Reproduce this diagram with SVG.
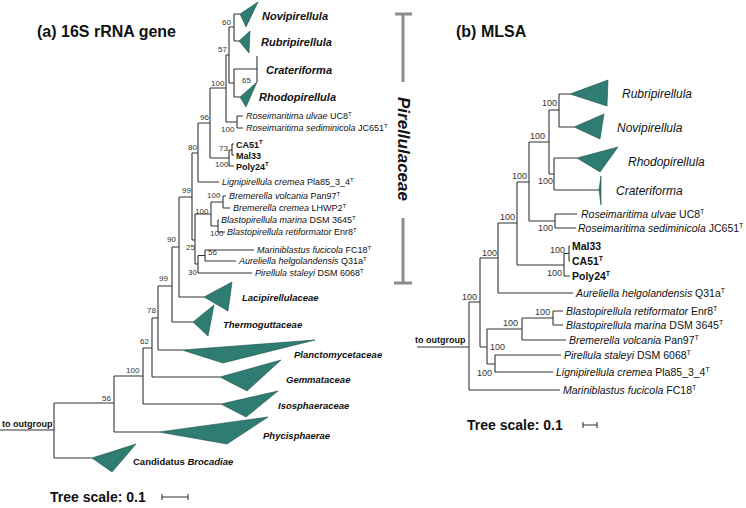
<svg xmlns="http://www.w3.org/2000/svg" width="746" height="508" viewBox="0 0 746 508">
<style>
.ln{fill:none;stroke:#333;stroke-width:1.1}
.tri{fill:#2f7d72;stroke:#1e4f49;stroke-width:0.6}
.bs{font-family:"Liberation Sans",Arial,sans-serif;font-size:8px;fill:#333}
.bs2{font-family:"Liberation Sans",Arial,sans-serif;font-size:9px;fill:#333}
.lf{font-family:"Liberation Sans",Arial,sans-serif;font-size:9px;fill:#111}
.lf2{font-family:"Liberation Sans",Arial,sans-serif;font-size:10.5px;fill:#111}
.i{font-style:italic}
.b{font-weight:bold}
.cl{font-family:"Liberation Sans",Arial,sans-serif;font-weight:bold;font-style:italic;fill:#111}
.cr{font-family:"Liberation Sans",Arial,sans-serif;font-style:italic;font-size:12px;fill:#111}
.ttl{font-family:"Liberation Sans",Arial,sans-serif;font-weight:bold;font-size:16px;fill:#111}
.sc{font-family:"Liberation Sans",Arial,sans-serif;font-weight:bold;font-size:14px;fill:#111}
.sup{font-size:6px}
.sup2{font-size:7px}
</style>
<text class="ttl" x="37" y="37">(a) 16S rRNA gene</text>
<text class="ttl" x="456" y="37">(b) MLSA</text>
<g id="bracket">
<path d="M395 14 H412 M403 14 V82 M403 218 V283 M394 283 H412" fill="none" stroke="#8c8c8c" stroke-width="3"/>
<text x="403" y="149" transform="rotate(90 403 149)" text-anchor="middle" dominant-baseline="central" font-family="Liberation Sans, Arial, sans-serif" font-weight="bold" font-style="italic" font-size="17" fill="#111">Pirellulaceae</text>
</g>
<g id="connectors">
<path class="ln" d="M0 430 H54 M54 403 V458 M54 403 H114 M54 458 H92 M114 376 V432 M114 432 H159 M114 376 H143 M143 348 V404 M143 404 H221 M143 348 H152 M152 318 V377 M152 377 H220 M152 318 H158 M158 286 V350 M158 350 H182 M158 286 H172 M172 247 V322 M172 322 H193 M172 247 H179 M179 197 V297 M179 297 H204 M179 197 H192 M192 153 V240 M192 153 H198 M192 240 H195 M198 123 V182 M198 182 H219 M198 123 H210 M210 88 V158 M210 88 H226 M210 158 H229 M226 55 V122 M226 55 H229 M226 122 H237 M229 27 V83 M229 27 H234 M229 83 H234 M234 14 V41 M234 14 H240 M234 41 H239 M234 69 V97 M234 69 H257 M257 56 V82 M234 97 H240 M237 116 V128 M237 116 H243 M237 128 H243 M229 150 V166 M229 150 H232 M229 166 H234 M232 144 V155 M232 144 H234 M232 155 H234 M195 214 V264 M195 214 H211 M195 264 H198 M211 202 V226 M211 202 H223 M223 196 V208 M223 196 H226 M223 208 H230 M211 226 H218 M218 220 V232 M218 220 H219 M218 232 H225 M198 255.5 V273 M198 255.5 H205 M198 273 H252 M205 250 V261 M205 250 H254 M205 261 H236"/>
<path class="ln" d="M417 347 H469 M469 302 V390 M469 302 H480 M469 390 H560 M480 258 V347 M480 258 H498 M480 347 H487 M498 223 V293 M498 223 H517 M498 293 H573 M517 182 V265 M517 182 H529 M517 265 H564 M529 142 V221 M529 142 H549 M529 221 H555 M549 110 V174 M549 110 H559 M549 174 H554 M559 94 V127 M559 94 H570 M559 127 H574 M554 158 V190 M554 158 H577 M554 190 H600 M555 214 V228 M555 214 H577 M555 228 H576 M564 253.5 V276 M564 253.5 H569 M564 276 H570 M569 246 V261 M569 246 H570 M569 261 H570 M487 329 V364 M487 329 H522 M487 364 H495 M522 318 V340 M522 318 H553 M522 340 H566 M553 311 V325 M553 311 H563 M553 325 H563 M495 355 V372 M495 355 H561 M495 372 H553"/>
</g>
<g id="tree-a-clades">
<g id="novi-a"><polygon class="tri" points="240,14 258,2 246,27"/><text class="cl" font-size="11" x="262" y="20">Novipirellula</text></g>
<g id="rubri-a"><polygon class="tri" points="239,41 250,31 249,53"/><text class="cl" font-size="11" x="261" y="46">Rubripirellula</text></g>
<g id="crat-a"><text class="cl" font-size="11" x="266" y="74">Crateriforma</text></g>
<g id="rhodo-a"><polygon class="tri" points="240,97 257,82 246,107"/><text class="cl" font-size="11" x="259" y="101">Rhodopirellula</text></g>
<g id="laci"><polygon class="tri" points="204,297 232,282 228,311"/><text class="cl" font-size="9.5" x="242" y="300.5">Lacipirellulaceae</text></g>
<g id="thermo"><polygon class="tri" points="193,322 214,305 208,336"/><text class="cl" font-size="9.5" x="223" y="327.5">Thermoguttaceae</text></g>
<g id="plancto"><polygon class="tri" points="182,350 315,340 223,363"/><text class="cl" font-size="9.5" x="294" y="357.5">Planctomycetaceae</text></g>
<g id="gemma"><polygon class="tri" points="220,377 281,360 247,391"/><text class="cl" font-size="9.5" x="286" y="382.5">Gemmataceae</text></g>
<g id="isos"><polygon class="tri" points="221,404 278,391 246,417"/><text class="cl" font-size="9.5" x="278" y="408.5">Isosphaeraceae</text></g>
<g id="phyc"><polygon class="tri" points="159,432 268,417 227,444"/><text class="cl" font-size="9.5" x="263" y="438.5">Phycisphaerae</text></g>
<g id="broc"><polygon class="tri" points="92,458 136,444 112,472"/><text class="cl" font-size="9.5" x="133" y="464.5"><tspan font-style="normal">Candidatus </tspan>Brocadiae</text></g>
</g>
<g id="tree-a-leaves">
<text class="lf" x="246" y="119"><tspan class="i">Roseimaritima ulvae</tspan> UC8<tspan class="sup" dy="-3">T</tspan></text>
<text class="lf" x="246" y="131"><tspan class="i">Roseimaritima sediminicola</tspan> JC651<tspan class="sup" dy="-3">T</tspan></text>
<text class="lf b" font-size="10" x="236" y="147.5">CA51<tspan class="sup" dy="-3.5">T</tspan></text>
<text class="lf b" font-size="10" x="236" y="158.5">Mal33</text>
<text class="lf b" font-size="10" x="236" y="169.5">Poly24<tspan class="sup" dy="-3.5">T</tspan></text>
<text class="lf" x="222" y="185"><tspan class="i">Lignipirellula cremea</tspan> Pla85_3_4<tspan class="sup" dy="-3">T</tspan></text>
<text class="lf" x="229" y="199"><tspan class="i">Bremerella volcania</tspan> Pan97<tspan class="sup" dy="-3">T</tspan></text>
<text class="lf" x="233" y="211"><tspan class="i">Bremerella cremea</tspan> LHWP2<tspan class="sup" dy="-3">T</tspan></text>
<text class="lf" x="221" y="223"><tspan class="i">Blastopirellula marina</tspan> DSM 3645<tspan class="sup" dy="-3">T</tspan></text>
<text class="lf" x="227" y="235"><tspan class="i">Blastopirellula retiformator</tspan> Enr8<tspan class="sup" dy="-3">T</tspan></text>
<text class="lf" x="257" y="253"><tspan class="i">Mariniblastus fucicola</tspan> FC18<tspan class="sup" dy="-3">T</tspan></text>
<text class="lf" x="239" y="264"><tspan class="i">Aureliella helgolandensis</tspan> Q31a<tspan class="sup" dy="-3">T</tspan></text>
<text class="lf" x="255" y="276"><tspan class="i">Pirellula staleyi</tspan> DSM 6068<tspan class="sup" dy="-3">T</tspan></text>
<text class="lf b" font-size="9.5" x="2" y="427">to outgroup</text>
</g>
<g id="tree-a-support">
<text class="bs" x="222" y="24.7">60</text>
<text class="bs" x="218" y="51.7">57</text>
<text class="bs" x="242" y="82.7">65</text>
<text class="bs" x="211" y="85.7">100</text>
<text class="bs" x="200" y="119.7">96</text>
<text class="bs" x="221" y="131.7">100</text>
<text class="bs" x="219" y="150.7">73</text>
<text class="bs" x="215" y="166.7">100</text>
<text class="bs" x="188" y="149.7">80</text>
<text class="bs" x="182" y="192.7">99</text>
<text class="bs" x="207" y="197.7">100</text>
<text class="bs" x="195" y="213.7">100</text>
<text class="bs" x="210" y="235.7">100</text>
<text class="bs" x="167" y="241.7">90</text>
<text class="bs" x="186" y="249.7">25</text>
<text class="bs" x="208" y="254.7">56</text>
<text class="bs" x="188" y="274.7">30</text>
<text class="bs" x="159" y="280.7">99</text>
<text class="bs" x="147" y="312.7">78</text>
<text class="bs" x="140" y="343.7">62</text>
<text class="bs" x="126" y="372.7">100</text>
<text class="bs" x="102" y="400.7">56</text>
</g>
<g id="scale-a">
<text class="sc" x="50" y="502">Tree scale: 0.1</text>
<path d="M162 497 H188 M162 494 V500 M188 494 V500" fill="none" stroke="#333" stroke-width="1.1"/>
</g>
<g id="tree-b-clades">
<g id="rubri-b"><polygon class="tri" points="570,94 608,80 607,106"/><text class="cr" x="622" y="98">Rubripirellula</text></g>
<g id="novi-b"><polygon class="tri" points="574,127 604,114 600,139"/><text class="cr" x="617" y="132">Novipirellula</text></g>
<g id="rhodo-b"><polygon class="tri" points="577,158 618,147 600,172"/><text class="cr" x="628" y="166">Rhodopirellula</text></g>
<g id="crat-b"><polygon class="tri" points="599,190 601,176 601,205"/><text class="cr" x="616" y="195">Crateriforma</text></g>
</g>
<g id="tree-b-leaves">
<text class="lf2" x="581" y="217.7"><tspan class="i">Roseimaritima ulvae</tspan> UC8<tspan class="sup2" dy="-3.5">T</tspan></text>
<text class="lf2" x="578" y="231.7"><tspan class="i">Roseimaritima sediminicola</tspan> JC651<tspan class="sup2" dy="-3.5">T</tspan></text>
<text class="lf2 b" x="572" y="249.7">Mal33</text>
<text class="lf2 b" x="572" y="264.7">CA51<tspan class="sup2" dy="-3.5">T</tspan></text>
<text class="lf2 b" x="572" y="279.7">Poly24<tspan class="sup2" dy="-3.5">T</tspan></text>
<text class="lf2" x="576" y="296.7"><tspan class="i">Aureliella helgolandensis</tspan> Q31a<tspan class="sup2" dy="-3.5">T</tspan></text>
<text class="lf2" x="566" y="314.7"><tspan class="i">Blastopirellula retiformator</tspan> Enr8<tspan class="sup2" dy="-3.5">T</tspan></text>
<text class="lf2" x="566" y="328.7"><tspan class="i">Blastopirellula marina</tspan> DSM 3645<tspan class="sup2" dy="-3.5">T</tspan></text>
<text class="lf2" x="569" y="343.7"><tspan class="i">Bremerella volcania</tspan> Pan97<tspan class="sup2" dy="-3.5">T</tspan></text>
<text class="lf2" x="564" y="358.7"><tspan class="i">Pirellula staleyi</tspan> DSM 6068<tspan class="sup2" dy="-3.5">T</tspan></text>
<text class="lf2" x="556" y="375.7"><tspan class="i">Lignipirellula cremea</tspan> Pla85_3_4<tspan class="sup2" dy="-3.5">T</tspan></text>
<text class="lf2" x="563" y="393.7"><tspan class="i">Mariniblastus fucicola</tspan> FC18<tspan class="sup2" dy="-3.5">T</tspan></text>
<text class="lf b" font-size="9.5" x="415" y="343">to outgroup</text>
</g>
<g id="tree-b-support">
<text class="bs2" x="542" y="106">100</text>
<text class="bs2" x="530" y="139">100</text>
<text class="bs2" x="538" y="184">100</text>
<text class="bs2" x="512" y="179">100</text>
<text class="bs2" x="538" y="231">100</text>
<text class="bs2" x="500" y="220">100</text>
<text class="bs2" x="550" y="253">100</text>
<text class="bs2" x="547" y="276">100</text>
<text class="bs2" x="482" y="256">100</text>
<text class="bs2" x="462" y="300">100</text>
<text class="bs2" x="535" y="315">100</text>
<text class="bs2" x="503" y="326">100</text>
<text class="bs2" x="490" y="350">100</text>
<text class="bs2" x="477" y="376">100</text>
</g>
<g id="scale-b">
<text class="sc" x="467" y="430">Tree scale: 0.1</text>
<path d="M583 425 H597 M583 422 V428 M597 422 V428" fill="none" stroke="#333" stroke-width="1.1"/>
</g>
</svg>
